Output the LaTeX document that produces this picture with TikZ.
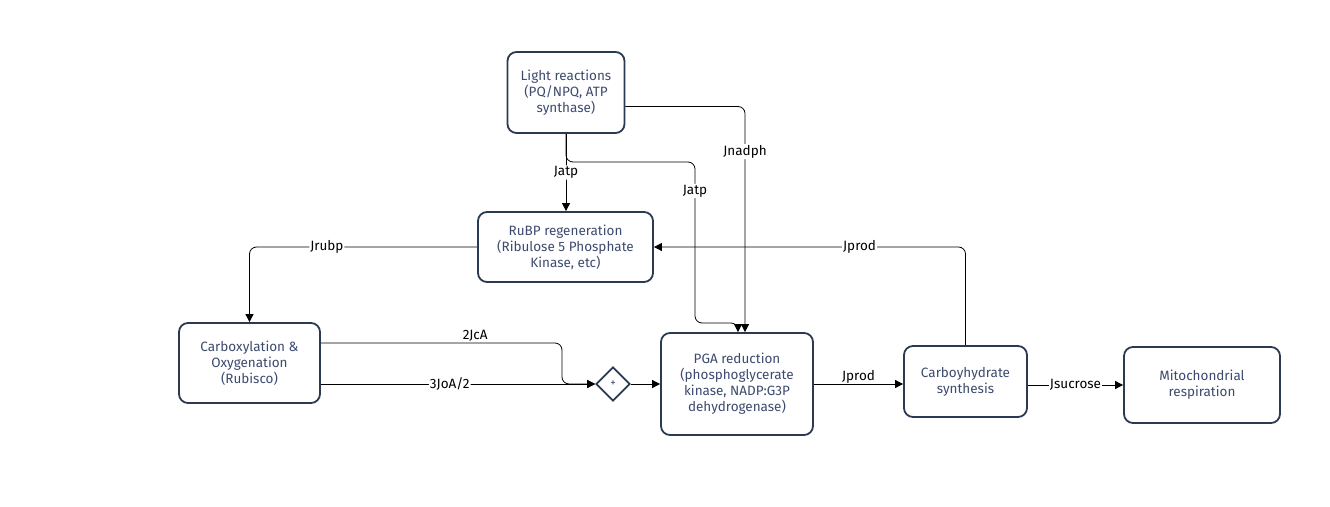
\documentclass[tikz,border=0pt]{standalone}
\usepackage{fontspec}
\setmainfont{Fira Sans}
\usetikzlibrary{arrows.meta}
\usetikzlibrary{shapes.geometric}
\definecolor{boxline}{HTML}{2B3A52}
\definecolor{boxtext}{HTML}{3C4A6E}
\tikzset{
  proc/.style={draw=boxline, line width=1.8pt, rounded corners=9pt, text=boxtext, align=center,
    font=\fontsize{13.5}{16}\selectfont, inner sep=0pt},
  gate/.style={diamond, draw=boxline, line width=1.8pt, minimum width=34pt, minimum height=34pt,
    inner sep=0pt, text=boxtext, font=\fontsize{11}{12}\selectfont},
  flow/.style={-{Triangle[width=8pt,length=8pt]}, line width=0.8pt, rounded corners=7pt},
  lbl/.style={fill=white, inner sep=1pt, text=black, font=\fontsize{13.5}{15}\selectfont}
}

\begin{document}
\begin{tikzpicture}[x=1pt, y=-1pt]
\useasboundingbox (0,0) rectangle (1330,506);
% boxes
\node[proc, minimum width=117pt, minimum height=81pt] (light) at (566,92.5) {Light reactions\\(PQ/NPQ, ATP\\synthase)};
\node[proc, minimum width=175pt, minimum height=70pt] (rubp) at (565.5,247) {RuBP regeneration\\(Ribulose 5 Phosphate\\Kinase, etc)};
\node[proc, minimum width=141pt, minimum height=80pt] (carbox) at (249.5,363) {Carboxylation \&\\Oxygenation\\(Rubisco)};
\node[gate] (plus) at (613,384) {+};
\node[proc, minimum width=152pt, minimum height=102pt] (pga) at (737,384) {PGA reduction\\(phosphoglycerate\\kinase, NADP:G3P\\dehydrogenase)};
\node[proc, minimum width=123pt, minimum height=71pt] (carbo) at (965.5,381.5) {Carboyhydrate\\synthesis};
\node[proc, minimum width=156pt, minimum height=76pt] (mito) at (1202,385) {Mitochondrial\\respiration};
% flows from the light reactions
\draw[flow] (light.south) -- node[lbl]{Jatp} (light.south |- rubp.north);
\draw[flow] (light.south) |- (695,162) -- node[lbl, pos=0.18]{Jatp} (695,323) -| ([xshift=1pt]pga.north);
\draw[flow] ([yshift=-14pt]light.east) -| node[lbl, pos=0.6]{Jnadph} ([xshift=8pt]pga.north);
% Calvin cycle
\draw[flow] (carbo.north) |- node[lbl, pos=0.67]{Jprod} (rubp.east);
\draw[flow] (rubp.west) -| node[lbl, pos=0.33]{Jrubp} (carbox.north);
\draw[flow] ([yshift=20pt]carbox.east) -- node[above, inner sep=1pt, font=\fontsize{13.5}{15}\selectfont, pos=0.64]{2JcA} (562,343) |- (plus.west);
\draw[flow] (carbox.east |- plus.west) -- node[lbl, pos=0.47]{3JoA/2} (plus.west);
\draw[flow] (plus.east) -- (pga.west);
\draw[flow] (pga.east) -- node[inner sep=1pt, yshift=7pt, font=\fontsize{13.5}{15}\selectfont]{Jprod} (pga.east -| carbo.west);
\draw[flow] (carbo.east |- mito.west) -- node[lbl]{Jsucrose} (mito.west);
\end{tikzpicture}
\end{document}
